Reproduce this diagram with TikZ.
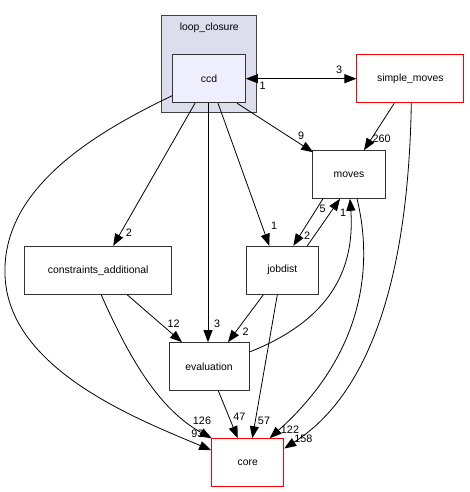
\documentclass[tikz,border=0pt]{standalone}
\usepackage{fontspec}
\setmainfont{Liberation Sans}
\usetikzlibrary{arrows.meta}
\begin{document}
\begin{tikzpicture}[x=1pt,y=-1pt,
  box/.style={draw=black!80,line width=1pt,fill=white,rectangle,inner sep=0pt,font=\fontsize{10.4}{12}\selectfont},
  redbox/.style={box,draw=red},
  edge/.style={draw=black,line width=0.8pt,-{Triangle[length=12pt,width=9pt]}},
  lbl/.style={font=\fontsize{10.8}{12}\selectfont,inner sep=0pt}]
\useasboundingbox (0,0) rectangle (469,492);
% cluster
\node[draw=black!75,line width=1pt,fill={rgb,255:red,221;green,221;blue,238},minimum width=94.7pt,minimum height=97.3pt,inner sep=0pt] (cluster) at (209.3,64.3) {};
\node[font=\fontsize{10.4}{12}\selectfont,inner sep=0pt] (clusterlabel) at (209.3,28) {loop\_closure};
% nodes
\node[box,fill={rgb,255:red,238;green,238;blue,255},minimum width=72.6pt,minimum height=48pt] (ccd) at (209,78.7) {ccd};
\node[redbox,minimum width=106.7pt,minimum height=48pt] (sm) at (410.3,78.7) {simple\_moves};
\node[box,minimum width=72.6pt,minimum height=47.5pt] (moves) at (349,174.5) {moves};
\node[box,minimum width=147pt,minimum height=48pt] (ca) at (98.2,270.3) {constraints\_additional};
\node[box,minimum width=72pt,minimum height=48pt] (jobdist) at (282.3,270.3) {jobdist};
\node[box,minimum width=80pt,minimum height=47.6pt] (eval) at (209,366.5) {evaluation};
\node[redbox,minimum width=72pt,minimum height=47.6pt] (core) at (247.7,462.5) {core};
% edges
\draw[edge,{Triangle[length=12pt,width=9pt]}-{Triangle[length=12pt,width=9pt]}] (ccd.east) -- (sm.west);
\node[lbl] (l_sm3) at (339,70) {3};
\node[lbl] (l_ccd1) at (262.7,86) {1};
\draw[edge] ([xshift=28pt]ccd.south) -- ([xshift=1pt,yshift=-2pt]moves.north west);
\node[lbl] (l9) at (301,136) {9};
\draw[edge] ([xshift=-16pt]sm.south) -- ([xshift=15pt]moves.north);
\node[lbl] (l260) at (381.7,138.3) {260};
\draw[edge] ([xshift=1pt]sm.south) .. controls (408,300) and (360,400) .. ([yshift=14pt]core.east);
\node[lbl] (l158) at (303.3,438.3) {158};
\draw[edge] ([yshift=-17pt]ccd.west) .. controls (90,135) and (2,190) .. (5,275) .. controls (8,370) and (140,420) .. ([yshift=-12pt]core.north west);
\node[lbl] (l93) at (197.3,434) {93};
\draw[edge] ([xshift=-14pt]ccd.south) -- ([xshift=15pt]ca.north);
\node[lbl] (l2a) at (129,233) {2};
\draw[edge] ([xshift=-1pt]ccd.south) -- ([xshift=-1pt]eval.north);
\node[lbl] (l3) at (217,324) {3};
\draw[edge] ([xshift=9pt]ccd.south) -- ([xshift=-13pt]jobdist.north);
\node[lbl] (l1j) at (274,226) {1};
\draw[edge] ([xshift=-26pt]moves.south) -- ([xshift=11pt]jobdist.north);
\node[lbl] (l2j) at (307,236) {2};
\draw[edge] ([xshift=25pt]jobdist.north) -- ([xshift=-9pt]moves.south);
\node[lbl] (l5) at (322.7,209) {5};
\draw[edge] ([yshift=14.5pt]eval.east) .. controls (330,320) and (355,270) .. ([xshift=1pt]moves.south);
\node[lbl] (l1m) at (343,213) {1};
\draw[edge] ([xshift=8pt]moves.south) .. controls (372,260) and (368,350) .. ([xshift=22pt]core.north);
\node[lbl] (l122) at (290,429.3) {122};
\draw[edge] ([xshift=-71pt]ca.south east) .. controls (130,360) and (160,410) .. ([xshift=-36pt]core.north);
\node[lbl] (l126) at (202,420.7) {126};
\draw[edge] ([xshift=-45pt]ca.south east) -- ([xshift=-27pt]eval.north);
\node[lbl] (l12) at (173.7,324) {12};
\draw[edge] ([xshift=-19pt]jobdist.south) -- ([xshift=19pt]eval.north);
\node[lbl] (l2e) at (245.7,331.7) {2};
\draw[edge] ([xshift=-5pt]jobdist.south) -- ([xshift=4.6pt]core.north);
\node[lbl] (l57) at (264,420.7) {57};
\draw[edge] ([xshift=9.3pt]eval.south) -- ([xshift=-10pt]core.north);
\node[lbl] (l47) at (239.3,416.7) {47};
\end{tikzpicture}
\end{document}
